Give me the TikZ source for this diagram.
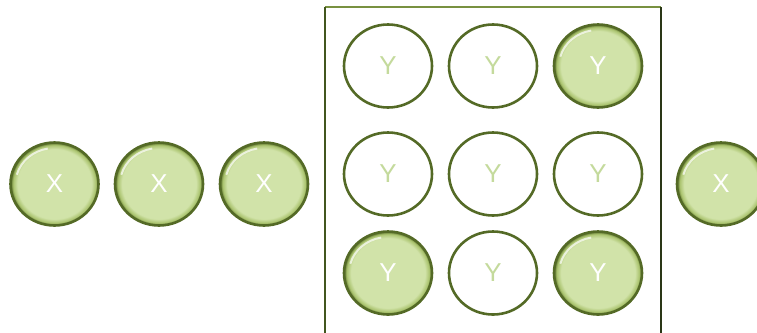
\documentclass[tikz,border=0pt]{standalone}
\usepackage{fontspec}
\setmainfont{Liberation Sans}
\usetikzlibrary{shapes.geometric}
\definecolor{ballfill}{RGB}{209,227,169}
\definecolor{ringdark}{RGB}{84,106,38}
\definecolor{ringlight}{RGB}{170,195,110}
\definecolor{ytext}{RGB}{196,218,156}
\definecolor{frametop}{RGB}{120,145,64}
\definecolor{frameleft}{RGB}{66,86,30}
\definecolor{frameright}{RGB}{42,54,22}
\pgfdeclareradialshading{ballshade}{\pgfpoint{0bp}{0bp}}{color(0bp)=(ballfill); color(21bp)=(ballfill); color(23.5bp)=(ringlight); color(25bp)=(ringdark); color(50bp)=(ringdark)}
\begin{document}
\begin{tikzpicture}[x=1bp,y=-1bp,
  ball/.style={ellipse, minimum width=88bp, minimum height=83bp, inner sep=0pt,
    draw=ringdark, line width=2.6bp, font=\fontsize{26}{26}\selectfont},
  full/.style={ball, shading=ballshade, text=white,
    path picture={\draw[white, opacity=0.7, line width=2bp]
      ([shift={(100:39bp and 36bp)}]path picture bounding box.center)
      arc[start angle=100, end angle=165, x radius=39bp, y radius=36bp];}},
  hollow/.style={ball, fill=white, text=ytext},
  frameside/.style={line width=2.4bp}]
\useasboundingbox (0,0) rectangle (757,332);
\clip (0,0) rectangle (757,332);
% frame
\node[minimum width=336bp, minimum height=353bp, inner sep=0pt, outer sep=0pt] (frame) at (493,183.5) {};
\draw[frameside, frametop] (frame.north west) -- (frame.north east);
\draw[frameside, frameleft] (frame.north west) -- (frame.south west);
\draw[frameside, frameright] (frame.north east) -- (frame.south east);
% X row
\node[full] (x1) at (54.5,184) {X};
\node[full] (x2) at (159,184) {X};
\node[full] (x3) at (264,184) {X};
\node[full] (x4) at (721,184) {X};
% Y grid
\node[hollow] (y11) at (388,66) {Y};
\node[hollow] (y12) at (493,66) {Y};
\node[full]   (y13) at (598,66) {Y};
\node[hollow] (y21) at (388,174) {Y};
\node[hollow] (y22) at (493,174) {Y};
\node[hollow] (y23) at (598,174) {Y};
\node[full]   (y31) at (388,273) {Y};
\node[hollow] (y32) at (493,273) {Y};
\node[full]   (y33) at (598,273) {Y};
\end{tikzpicture}
\end{document}
